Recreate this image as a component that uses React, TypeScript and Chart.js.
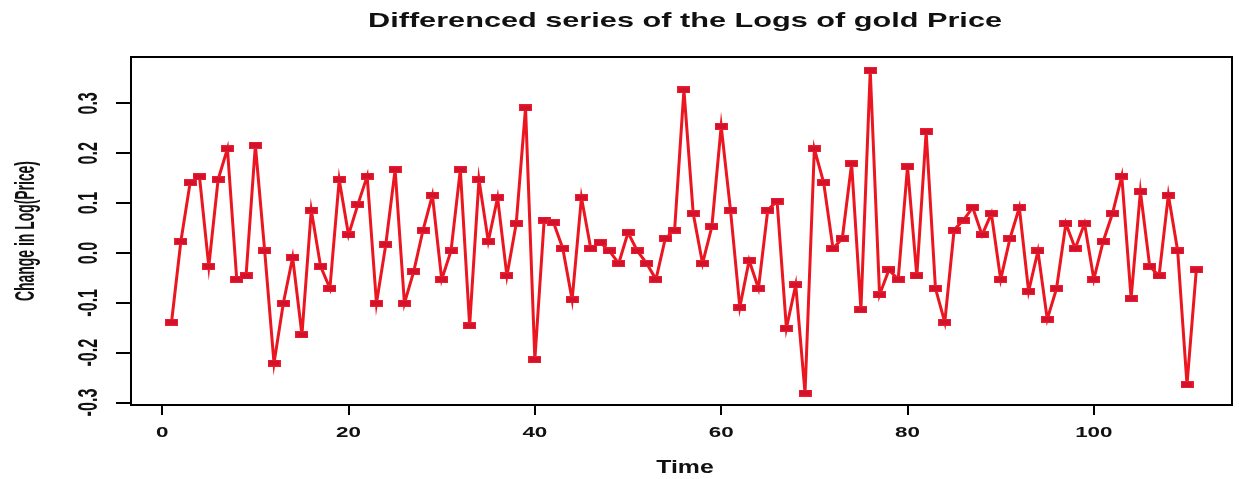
import React, { useEffect, useRef } from "react";
import { Chart, registerables } from "chart.js";

Chart.register(...registerables);

const chartTitle = "Differenced series of the Logs of gold Price";
const xAxisTitle = "Time";
const yAxisTitle = "Change in Log(Price)";

const xTickValues = [0, 20, 40, 60, 80, 100];
const xTickLabels = ["0", "20", "40", "60", "80", "100"];
const yTickValues = [-0.3, -0.2, -0.1, 0.0, 0.1, 0.2, 0.3];
const yTickLabels = ["-0.3", "-0.2", "-0.1", "0.0", "0.1", "0.2", "0.3"];

const diffLogPrice = [
  -0.139, 0.023, 0.141, 0.153, -0.027, 0.147, 0.209, -0.053, -0.046, 0.216,
  0.004, -0.221, -0.101, -0.009, -0.164, 0.086, -0.027, -0.071, 0.147, 0.036,
  0.097, 0.154, -0.101, 0.017, 0.167, -0.101, -0.037, 0.046, 0.116, -0.053,
  0.004, 0.167, -0.146, 0.147, 0.023, 0.111, -0.046, 0.059, 0.291, -0.214,
  0.066, 0.061, 0.009, -0.094, 0.111, 0.009, 0.021, 0.004, -0.021, 0.041,
  0.004, -0.021, -0.053, 0.029, 0.046, 0.327, 0.079, -0.021, 0.053, 0.254,
  0.086, -0.109, -0.015, -0.071, 0.086, 0.104, -0.151, -0.064, -0.281, 0.209,
  0.141, 0.009, 0.029, 0.179, -0.114, 0.366, -0.084, -0.034, -0.053, 0.173,
  -0.046, 0.243, -0.071, -0.139, 0.046, 0.066, 0.091, 0.036, 0.079, -0.053,
  0.029, 0.091, -0.077, 0.004, -0.133, -0.071, 0.059, 0.009, 0.059, -0.053,
  0.023, 0.079, 0.154, -0.091, 0.123, -0.027, -0.046, 0.116, 0.004, -0.264,
  -0.034,
];

function makeMarker(): HTMLCanvasElement {
  const c = document.createElement("canvas");
  c.width = 13;
  c.height = 7;
  const g = c.getContext("2d")!;
  g.fillStyle = "rgb(240,30,45)";
  g.fillRect(0, 0, 13, 7);
  g.fillStyle = "rgb(210,18,45)";
  g.fillRect(1, 1, 11, 5);
  return c;
}

const FONT = "'Liberation Sans', Arial, sans-serif";

const textPlugin = {
  id: "rText",
  afterDraw(chart: any) {
    const ctx: CanvasRenderingContext2D = chart.ctx;
    const area = chart.chartArea;
    const xs = chart.scales.x;
    const ys = chart.scales.y;
    ctx.save();
    ctx.strokeStyle = "#000";
    ctx.lineWidth = 2;
    ctx.strokeRect(area.left, area.top, area.right - area.left, area.bottom - area.top);

    ctx.fillStyle = "#111";
    ctx.font = `bold 21px ${FONT}`;
    ctx.textAlign = "center";
    ctx.textBaseline = "alphabetic";
    const tw = ctx.measureText(chartTitle).width;
    ctx.save();
    ctx.translate(685, 27);
    ctx.scale(634 / tw, 1);
    ctx.fillText(chartTitle, 0, 0);
    ctx.restore();

    ctx.font = `bold 14px ${FONT}`;
    xTickValues.forEach((v, i) => {
      const px = xs.getPixelForValue(v);
      ctx.save();
      ctx.translate(px, 437);
      ctx.scale(1.6, 1);
      ctx.fillText(xTickLabels[i], 0, 0);
      ctx.restore();
    });

    ctx.font = `bold 18px ${FONT}`;
    ctx.save();
    ctx.translate(685, 473);
    ctx.scale(1.38, 1);
    ctx.fillText(xAxisTitle, 0, 0);
    ctx.restore();

    ctx.font = `bold 14px ${FONT}`;
    yTickValues.forEach((v, i) => {
      const py = ys.getPixelForValue(v);
      ctx.save();
      ctx.translate(97, py);
      ctx.rotate(-Math.PI / 2);
      ctx.scale(1.15, 2.0);
      ctx.fillText(yTickLabels[i], 0, 0);
      ctx.restore();
    });

    ctx.font = `bold 14px ${FONT}`;
    const yw = ctx.measureText(yAxisTitle).width;
    ctx.save();
    ctx.translate(34, (area.top + area.bottom) / 2);
    ctx.rotate(-Math.PI / 2);
    ctx.scale(140 / yw, 2.0);
    ctx.fillText(yAxisTitle, 0, 0);
    ctx.restore();

    ctx.restore();
  },
};

export default function App() {
  const ref = useRef<HTMLCanvasElement | null>(null);

  useEffect(() => {
    if (!ref.current) return;
    const marker = makeMarker();
    const points = diffLogPrice.map((v, i) => ({ x: i + 1, y: v }));
    const chart = new Chart(ref.current, {
      type: "line",
      data: {
        datasets: [
          {
            data: points,
            borderColor: "rgb(235,22,32)",
            borderWidth: 3,
            tension: 0,
            pointStyle: marker as any,
            pointRadius: 4,
            pointHoverRadius: 4,
            backgroundColor: "rgb(215,20,45)",
          },
        ],
      },
      options: {
        animation: false,
        responsive: false,
        devicePixelRatio: 1,
        events: [],
        layout: { padding: { top: 57, right: 3, bottom: 0, left: 0 } },
        plugins: {
          legend: { display: false },
          title: { display: false },
          tooltip: { enabled: false },
        },
        scales: {
          x: {
            type: "linear",
            min: -3.35,
            max: 114.83,
            border: { display: false },
            grid: {
              drawOnChartArea: false,
              drawTicks: true,
              tickLength: 10,
              color: "#000",
              lineWidth: 2,
            },
            ticks: { display: false },
            afterBuildTicks: (scale: any) => {
              scale.ticks = xTickValues.map((v) => ({ value: v }));
            },
            afterFit: (scale: any) => {
              scale.height = 74;
            },
          },
          y: {
            type: "linear",
            min: -0.305,
            max: 0.393,
            border: { display: false },
            grid: {
              drawOnChartArea: false,
              drawTicks: true,
              tickLength: 15,
              color: "#000",
              lineWidth: 2,
            },
            ticks: { display: false },
            afterBuildTicks: (scale: any) => {
              scale.ticks = yTickValues.map((v) => ({ value: v }));
            },
            afterFit: (scale: any) => {
              scale.width = 131;
            },
          },
        },
      },
      plugins: [textPlugin],
    });
    return () => chart.destroy();
  }, []);

  return (
    <div style={{ position: "absolute", left: 0, top: 0, width: 1239, height: 479, background: "#fff" }}>
      <canvas ref={ref} width={1239} height={479} />
    </div>
  );
}
